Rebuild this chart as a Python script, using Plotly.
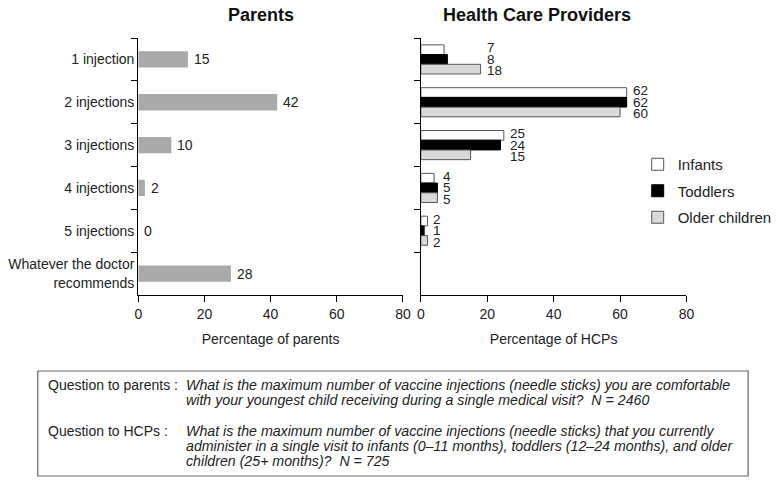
import plotly.graph_objects as go

categories = ["1 injection", "2 injections", "3 injections", "4 injections",
              "5 injections", "Whatever the doctor<br>recommends"]
parents = [15, 42, 10, 2, 0, 28]
hcp_categories = categories[:5]
infants = [7, 62, 25, 4, 2]
toddlers = [8, 62, 24, 5, 1]
older_children = [18, 60, 15, 5, 2]
x_ticks = [0, 20, 40, 60, 80]

parents_question = ["What is the maximum number of vaccine injections (needle sticks) you are comfortable",
                    "with your youngest child receiving during a single medical visit?  N = 2460"]
hcp_question = ["What is the maximum number of vaccine injections (needle sticks) that you currently",
                "administer in a single visit to infants (0–11 months), toddlers (12–24 months), and older",
                "children (25+ months)?  N = 725"]

FONT = "Liberation Sans, Arial, Helvetica, sans-serif"
TXT = "#222222"
W, H = 777, 480


def px(x):
    return x / W


def py(y):
    return 1 - y / H


fig = go.Figure()

fig.add_trace(go.Bar(
    y=categories, x=parents, orientation="h", xaxis="x", yaxis="y",
    marker=dict(color="#a9a9a9", line=dict(width=0)),
    width=0.38, offset=-0.19, showlegend=False, hoverinfo="x+y"))

series = [("Infants", infants, "#ffffff", "#555555", -0.34),
          ("Toddlers", toddlers, "#000000", "#000000", -0.113),
          ("Older children", older_children, "#d9d9d9", "#555555", 0.114)]
for name, vals, fill, line, off in series:
    fig.add_trace(go.Bar(
        y=hcp_categories, x=vals, orientation="h", xaxis="x2", yaxis="y2",
        name=name, legendgroup=name,
        marker=dict(color=fill, line=dict(color=line, width=1)),
        width=0.226, offset=off))

annotations = []
for i, v in enumerate(parents):
    annotations.append(dict(x=v, y=i, xref="x", yref="y", text=str(v),
                            showarrow=False, xanchor="left", yanchor="middle", xshift=4,
                            font=dict(size=14, color=TXT, family=FONT)))
for i in range(len(hcp_categories)):
    gmax = max(infants[i], toddlers[i], older_children[i])
    for j, (name, vals, fill, line, off) in enumerate(series):
        annotations.append(dict(x=gmax, y=i + (j - 1) * 0.27, xref="x2", yref="y2",
                                text=str(vals[i]), showarrow=False,
                                xanchor="left", yanchor="middle", xshift=4,
                                font=dict(size=13.5, color=TXT, family=FONT)))


def paper_text(x, y, text, size=14, xanchor="left", color=TXT):
    return dict(x=px(x), y=py(y), xref="paper", yref="paper", text=text,
                xanchor=xanchor, yanchor="middle", showarrow=False,
                font=dict(size=size, color=color, family=FONT))


annotations += [
    paper_text(262, 15, "<b>Parents</b>", size=18, xanchor="center", color="#111"),
    paper_text(540, 15, "<b>Health Care Providers</b>", size=18, xanchor="center", color="#111"),
    paper_text(46, 385, "Question to parents :"),
    paper_text(46, 431, "Question to HCPs :"),
]
for k, line in enumerate(parents_question):
    annotations.append(paper_text(185, 385 + 15 * k, "<i>" + line + "</i>", size=14.2))
for k, line in enumerate(hcp_question):
    annotations.append(paper_text(185, 431 + 15 * k, "<i>" + line + "</i>", size=14.2))

axis_common = dict(showgrid=False, zeroline=False, showline=True, linecolor="#000",
                   linewidth=1.3, ticks="outside", ticklen=6, tickcolor="#000",
                   tickwidth=1.3, automargin=False,
                   tickfont=dict(size=14, color=TXT, family=FONT))

fig.update_layout(
    width=W, height=H, margin=dict(l=0, r=0, t=0, b=0),
    paper_bgcolor="white", plot_bgcolor="white",
    barmode="overlay",
    font=dict(family=FONT, color=TXT),
    xaxis=dict(domain=[px(139), px(405)], range=[0, 80], tickvals=x_ticks,
               anchor="y",
               title=dict(text="Percentage of parents", font=dict(size=14, color=TXT),
                          standoff=13),
               **axis_common),
    yaxis=dict(domain=[py(295), py(38)], range=[5.5, -0.5], type="category",
               categoryorder="array", categoryarray=categories,
               tickson="boundaries", anchor="x", **axis_common),
    xaxis2=dict(domain=[px(423), px(690)], range=[0, 80], tickvals=x_ticks,
                anchor="y2",
                title=dict(text="Percentage of HCPs", font=dict(size=14, color=TXT),
                           standoff=13),
                **axis_common),
    yaxis2=dict(domain=[py(295), py(38)], range=[5.5, -0.5], type="category",
                categoryorder="array", categoryarray=categories,
                tickson="boundaries", anchor="x2", showticklabels=False,
                **axis_common),
    legend=dict(x=px(641), y=py(148), xanchor="left", yanchor="top",
                traceorder="grouped", tracegroupgap=4,
                font=dict(size=15, color=TXT, family=FONT),
                bgcolor="rgba(0,0,0,0)"),
    annotations=annotations,
    shapes=[dict(type="rect", xref="paper", yref="paper",
                 x0=px(38), x1=px(752), y0=py(476), y1=py(371),
                 line=dict(color="#666", width=1.2))],
)

fig.write_html("out.html", config={"displayModeBar": False},
               post_script="document.body.style.margin='0';document.body.style.overflow='hidden';")
